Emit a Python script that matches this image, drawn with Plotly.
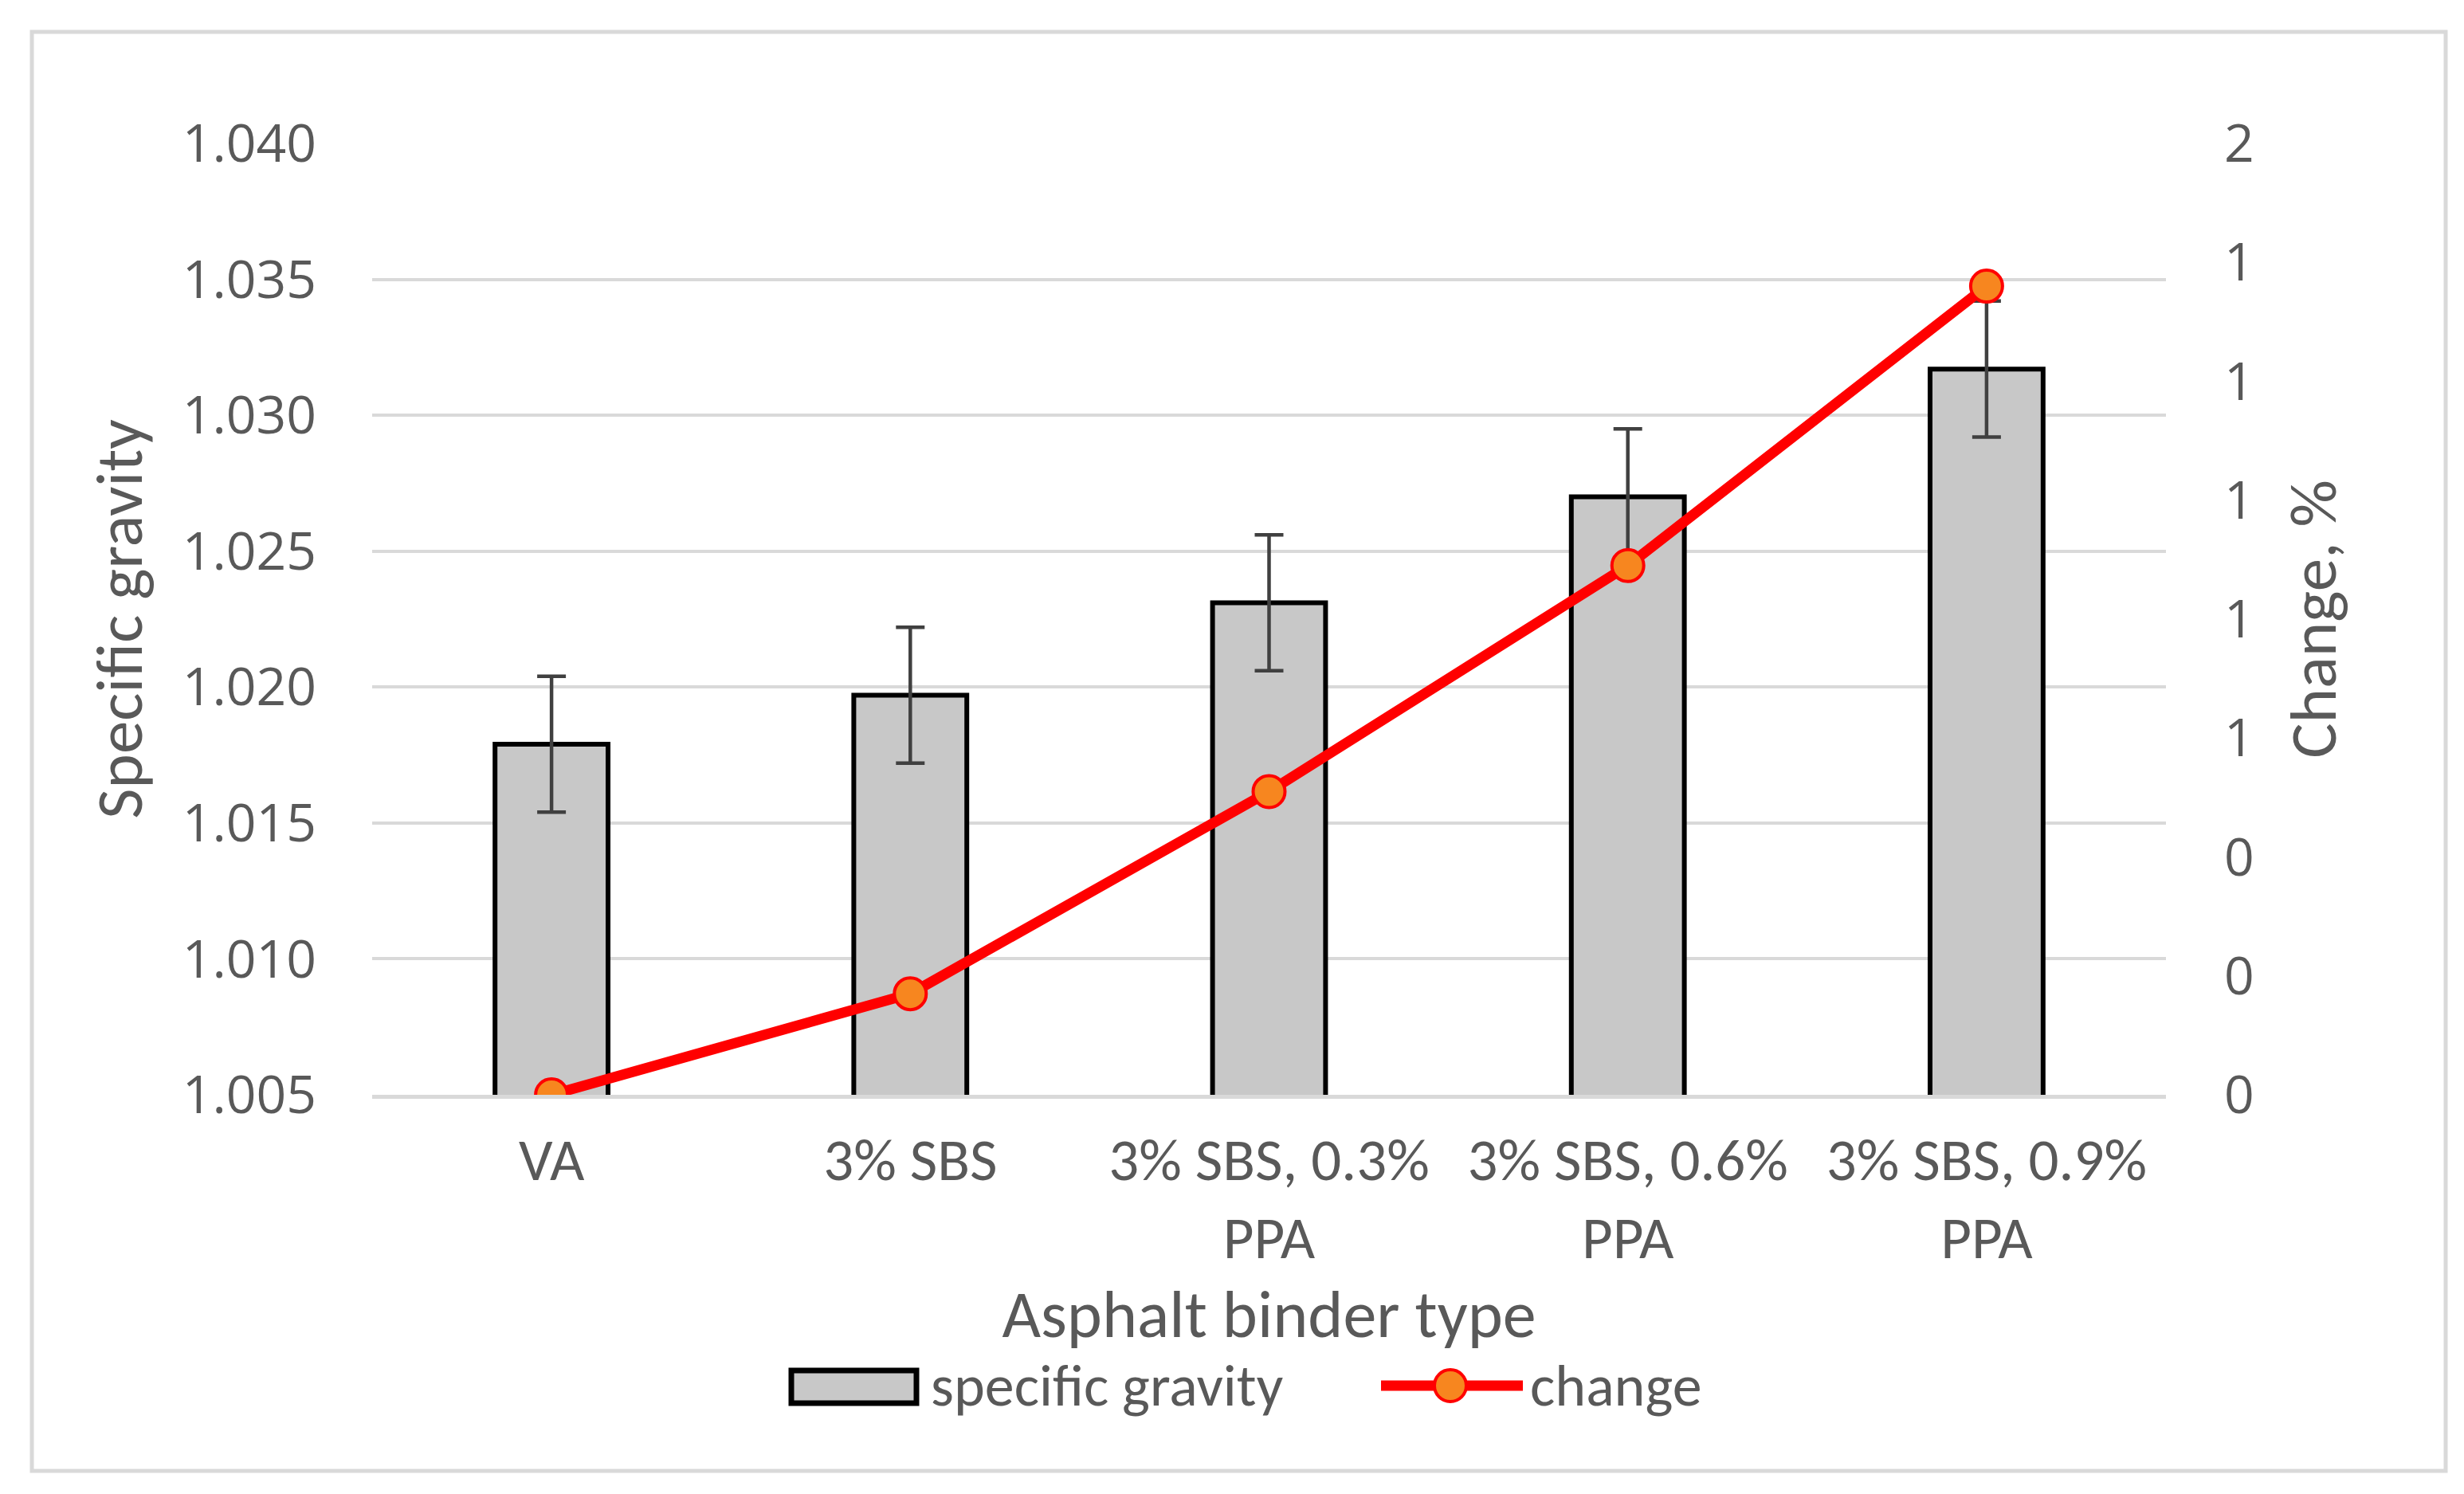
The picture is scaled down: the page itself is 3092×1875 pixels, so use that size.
import plotly.graph_objects as go

categories = ["VA", "3% SBS", "3% SBS, 0.3%<br>PPA", "3% SBS, 0.6%<br>PPA", "3% SBS, 0.9%<br>PPA"]
specific_gravity = [1.0179, 1.0197, 1.0231, 1.0270, 1.0317]
sg_error = [0.0025, 0.0025, 0.0025, 0.0025, 0.0025]
change_pct = [0.0, 0.17, 0.51, 0.89, 1.36]
left_ticks = [1.005, 1.010, 1.015, 1.020, 1.025, 1.030, 1.035, 1.040]
right_ticks = [0, 0.2, 0.4, 0.6, 0.8, 1.0, 1.2, 1.4, 1.6]

W, H = 3092, 1875
ML, MR, MT, MB = 459, 382, 172, 509
PW = W - ML - MR
PH = H - MT - MB

def px_x(p):
    return (p - ML) / PW

def px_y(p):
    return (H - MB - p) / PH

NARROW = "Carlito, 'Liberation Sans Narrow', 'Open Sans', sans-serif"
TICKF = "'Open Sans', sans-serif"
GREY_TXT = "#595959"

fig = go.Figure()
fig.add_trace(go.Bar(
    x=categories, y=specific_gravity, name="specific gravity",
    width=0.315,
    marker=dict(color="#C8C8C8", line=dict(color="black", width=6)),
    error_y=dict(type="data", array=sg_error, color="#404040", thickness=4.5, width=18),
    yaxis="y",
))
fig.add_trace(go.Scatter(
    x=categories, y=change_pct, name="change", mode="lines+markers",
    line=dict(color="#FF0000", width=13),
    marker=dict(size=40, color="#F7861F", line=dict(color="#FF0000", width=4)),
    yaxis="y2",
))

fig.update_layout(
    width=W, height=H,
    margin=dict(l=ML, r=MR, t=MT, b=MB),
    paper_bgcolor="white", plot_bgcolor="white",
    showlegend=False,
    xaxis=dict(
        type="category", showgrid=False, ticks="", showline=True,
        linecolor="#D9D9D9", linewidth=5,
        tickfont=dict(family=NARROW, size=75, color=GREY_TXT),
        title=dict(text="Asphalt binder type", font=dict(family=NARROW, size=84, color=GREY_TXT), standoff=8),
        ticklabelstandoff=12,
    ),
    yaxis=dict(
        range=[1.005, 1.040], tickvals=left_ticks, tickformat=".3f",
        showgrid=True, gridcolor="#D9D9D9", gridwidth=4, zeroline=False,
        ticks="", ticklabelstandoff=69,
        tickfont=dict(family=TICKF, size=66, color=GREY_TXT),
        title=dict(text="Specific gravity", font=dict(family=NARROW, size=83, color=GREY_TXT), standoff=22),
    ),
    yaxis2=dict(
        range=[0, 1.6], tickvals=right_ticks, tickformat=".0f",
        overlaying="y", side="right", showgrid=False, zeroline=False,
        ticks="", ticklabelstandoff=72,
        tickfont=dict(family=TICKF, size=66, color=GREY_TXT),
        title=dict(text="Change, %", font=dict(family=NARROW, size=83, color=GREY_TXT), standoff=45),
    ),
)

shapes = []
# outer border
shapes.append(dict(type="rect", xref="paper", yref="paper",
                   x0=px_x(32), x1=px_x(3061), y0=px_y(1838), y1=px_y(32),
                   line=dict(color="#D9D9D9", width=5), fillcolor="rgba(0,0,0,0)", layer="below"))
# legend: bar swatch
shapes.append(dict(type="rect", xref="paper", yref="paper",
                   x0=px_x(985), x1=px_x(1142), y0=px_y(1753), y1=px_y(1712),
                   line=dict(color="black", width=7), fillcolor="#C8C8C8"))
# legend: line swatch
ly = px_y(1731)
shapes.append(dict(type="line", xref="paper", yref="paper",
                   x0=px_x(1725), x1=px_x(1903), y0=ly, y1=ly,
                   line=dict(color="#FF0000", width=13)))
shapes.append(dict(type="circle", xref="paper", yref="paper",
                   xsizemode="pixel", ysizemode="pixel",
                   xanchor=px_x(1812), yanchor=ly, x0=-20, x1=20, y0=-20, y1=20,
                   line=dict(color="#FF0000", width=4), fillcolor="#F7861F"))
fig.update_layout(shapes=shapes)

fig.add_annotation(text="specific gravity", xref="paper", yref="paper",
                   x=px_x(1158), y=ly, xanchor="left", yanchor="middle", showarrow=False,
                   font=dict(family=NARROW, size=74, color=GREY_TXT))
fig.add_annotation(text="change", xref="paper", yref="paper",
                   x=px_x(1910), y=ly, xanchor="left", yanchor="middle", showarrow=False,
                   font=dict(family=NARROW, size=74, color=GREY_TXT))

fig.write_html("out.html")
